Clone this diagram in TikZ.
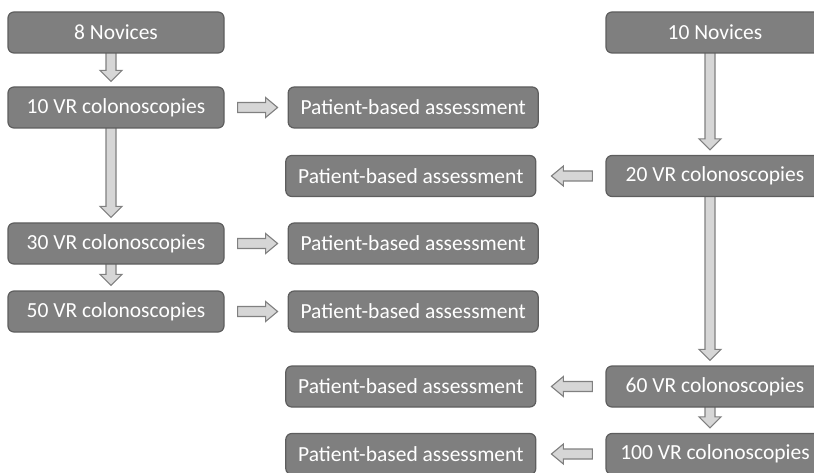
\documentclass[tikz,border=0pt]{standalone}
\usepackage{fontspec}
\setmainfont{Carlito}
\usepackage{tikz}
\usetikzlibrary{positioning,calc,backgrounds}
\definecolor{boxfill}{HTML}{7F7F7F}
\definecolor{boxline}{HTML}{5E5E5E}
\definecolor{arrfill}{HTML}{D6D6D6}
\definecolor{arrline}{HTML}{808080}

% block arrows between two named boxes
\newcommand{\flowdown}[2]{%
  \path[blk] let \p1=(#1.south), \p2=(#2.north) in
    (\x1-10pt,\y1+2pt) -- (\x1-10pt,\y2+16pt) -- (\x1-16pt,\y2+16pt) -- (\x1-5pt,\y2+5pt)
    -- (\x1+6pt,\y2+16pt) -- (\x1,\y2+16pt) -- (\x1,\y1+2pt) -- cycle;}
\newcommand{\flowright}[2]{%
  \path[blk] let \p1=(#1.east), \p2=(#2.west) in
    (\x1+13pt,\y1+5pt) -- (\x2-22pt,\y1+5pt) -- (\x2-22pt,\y1+10pt) -- (\x2-10pt,\y1)
    -- (\x2-22pt,\y1-10pt) -- (\x2-22pt,\y1-5pt) -- (\x1+13pt,\y1-5pt) -- cycle;}
\newcommand{\flowleft}[2]{%
  \path[blk] let \p1=(#1.west), \p2=(#2.east) in
    (\x1-13pt,\y1+5pt) -- (\x2+27pt,\y1+5pt) -- (\x2+27pt,\y1+10pt) -- (\x2+15pt,\y1)
    -- (\x2+27pt,\y1-10pt) -- (\x2+27pt,\y1-5pt) -- (\x1-13pt,\y1-5pt) -- cycle;}

\begin{document}
\begin{tikzpicture}[x=1pt, y=-1pt,
  stage/.style={draw=boxline, fill=boxfill, line width=1.2pt, rounded corners=6pt,
                minimum width=216pt, minimum height=41pt, inner sep=0pt,
                text=white, font=\fontsize{21.5}{24}\selectfont},
  assess/.style={stage, minimum width=250pt},
  wide/.style={stage, minimum width=218pt},
  blk/.style={draw=arrline, fill=arrfill, line width=1.1pt, line join=miter}]

\useasboundingbox (0,0) rectangle (814,473);

% left arm: 8 novices
\node[stage] (nov8) at (116,32.5) {8 Novices};
\node[stage] (vr10) at (116,107.5) {10 VR colonoscopies};
\node[stage] (vr30) at (116,243.5) {30 VR colonoscopies};
\node[stage] (vr50) at (116,311.5) {50 VR colonoscopies};

% right arm: 10 novices
\node[wide] (nov10) at (715,32.5) {10 Novices};
\node[wide] (vr20) at (715,176) {20 VR colonoscopies};
\node[wide] (vr60) at (715,386.5) {60 VR colonoscopies};
\node[wide] (vr100) at (715,454) {100 VR colonoscopies};

% assessments in the middle
\node[assess, right=63pt of vr10] (pa1) {Patient-based assessment};
\node[assess, left=69pt of vr20] (pa2) {Patient-based assessment};
\node[assess, right=63pt of vr30] (pa3) {Patient-based assessment};
\node[assess, right=63pt of vr50] (pa4) {Patient-based assessment};
\node[assess, left=69pt of vr60] (pa5) {Patient-based assessment};
\node[assess, left=69pt of vr100] (pa6) {Patient-based assessment};

\begin{scope}[on background layer]
\flowdown{nov8}{vr10}
\flowdown{vr10}{vr30}
\flowdown{vr30}{vr50}
\flowdown{nov10}{vr20}
\flowdown{vr20}{vr60}
\flowdown{vr60}{vr100}
\end{scope}

\flowright{vr10}{pa1}
\flowright{vr30}{pa3}
\flowright{vr50}{pa4}
\flowleft{vr20}{pa2}
\flowleft{vr60}{pa5}
\flowleft{vr100}{pa6}
\end{tikzpicture}
\end{document}
